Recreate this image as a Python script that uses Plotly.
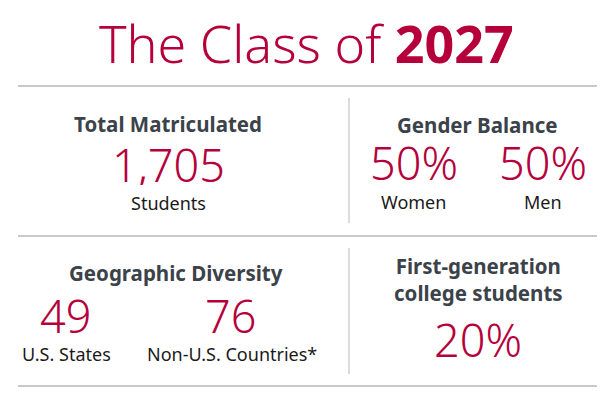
import plotly.graph_objects as go

W, H = 616, 401
OFF = 8  # page body margin offset
RED = "#b5003b"
DARK = "#3c424a"
BLACK = "#1a1a1a"
GRID = "#c9c9c9"
FONT = "Noto Sans"

title_light = "The Class of "
title_bold = "2027"

headings = ["Total Matriculated", "Gender Balance", "Geographic Diversity",
            "First-generation<br>college students"]
big_values = ["1,705", "50%", "50%", "49", "76", "20%"]
value_labels = ["Students", "Women", "Men", "U.S. States", "Non-U.S. Countries*", ""]

# layout positions (pixels)
heading_pos = [(168, 124), (477, 125), (176, 273), (478, 279)]
value_pos = [(168, 164), (414, 162), (543, 162), (65, 315), (230, 315), (478, 339)]
label_pos = [(168, 203), (413, 202), (543, 202), (66, 354), (232, 354), (0, 0)]

fig = go.Figure()
fig.add_trace(go.Scatter(x=[OFF, W + OFF], y=[OFF, H + OFF], mode="markers",
                         marker=dict(opacity=0), hoverinfo="skip", showlegend=False))

ann = []
ann.append(dict(x=306, y=42, height=54, text=title_light + "<b>" + title_bold + "</b>",
                font=dict(family=FONT, size=52, color=RED, weight=300)))
for t, (x, y) in zip(headings, heading_pos):
    ann.append(dict(x=x, y=y, text="<b>" + t + "</b>",
                    font=dict(family=FONT, size=20.5, color=DARK)))
for t, (x, y) in zip(big_values, value_pos):
    ann.append(dict(x=x, y=y, height=42, text=t,
                    font=dict(family=FONT, size=45, color=RED, weight=300)))
for t, (x, y) in zip(value_labels, label_pos):
    if t:
        ann.append(dict(x=x, y=y, height=20, text=t,
                        font=dict(family=FONT, size=18, color=BLACK)))
for a in ann:
    a.update(xref="x", yref="y", showarrow=False, xanchor="center", yanchor="middle")

shapes = []
for yy in [86, 236, 386]:
    shapes.append(dict(type="line", x0=18, x1=597, y0=yy, y1=yy,
                       line=dict(color=GRID, width=1.8)))
for (y0, y1) in [(98, 223), (248, 374)]:
    shapes.append(dict(type="line", x0=349, x1=349, y0=y0, y1=y1,
                       line=dict(color=GRID, width=1.3)))
for s in shapes:
    s.update(xref="x", yref="y", layer="below")

fig.update_layout(
    width=W, height=H, margin=dict(l=0, r=0, t=0, b=0),
    paper_bgcolor="white", plot_bgcolor="white",
    xaxis=dict(range=[OFF, W + OFF], visible=False, fixedrange=True),
    yaxis=dict(range=[H + OFF, OFF], visible=False, fixedrange=True),
    annotations=ann, shapes=shapes, showlegend=False,
)
fig.write_html("out.html")
